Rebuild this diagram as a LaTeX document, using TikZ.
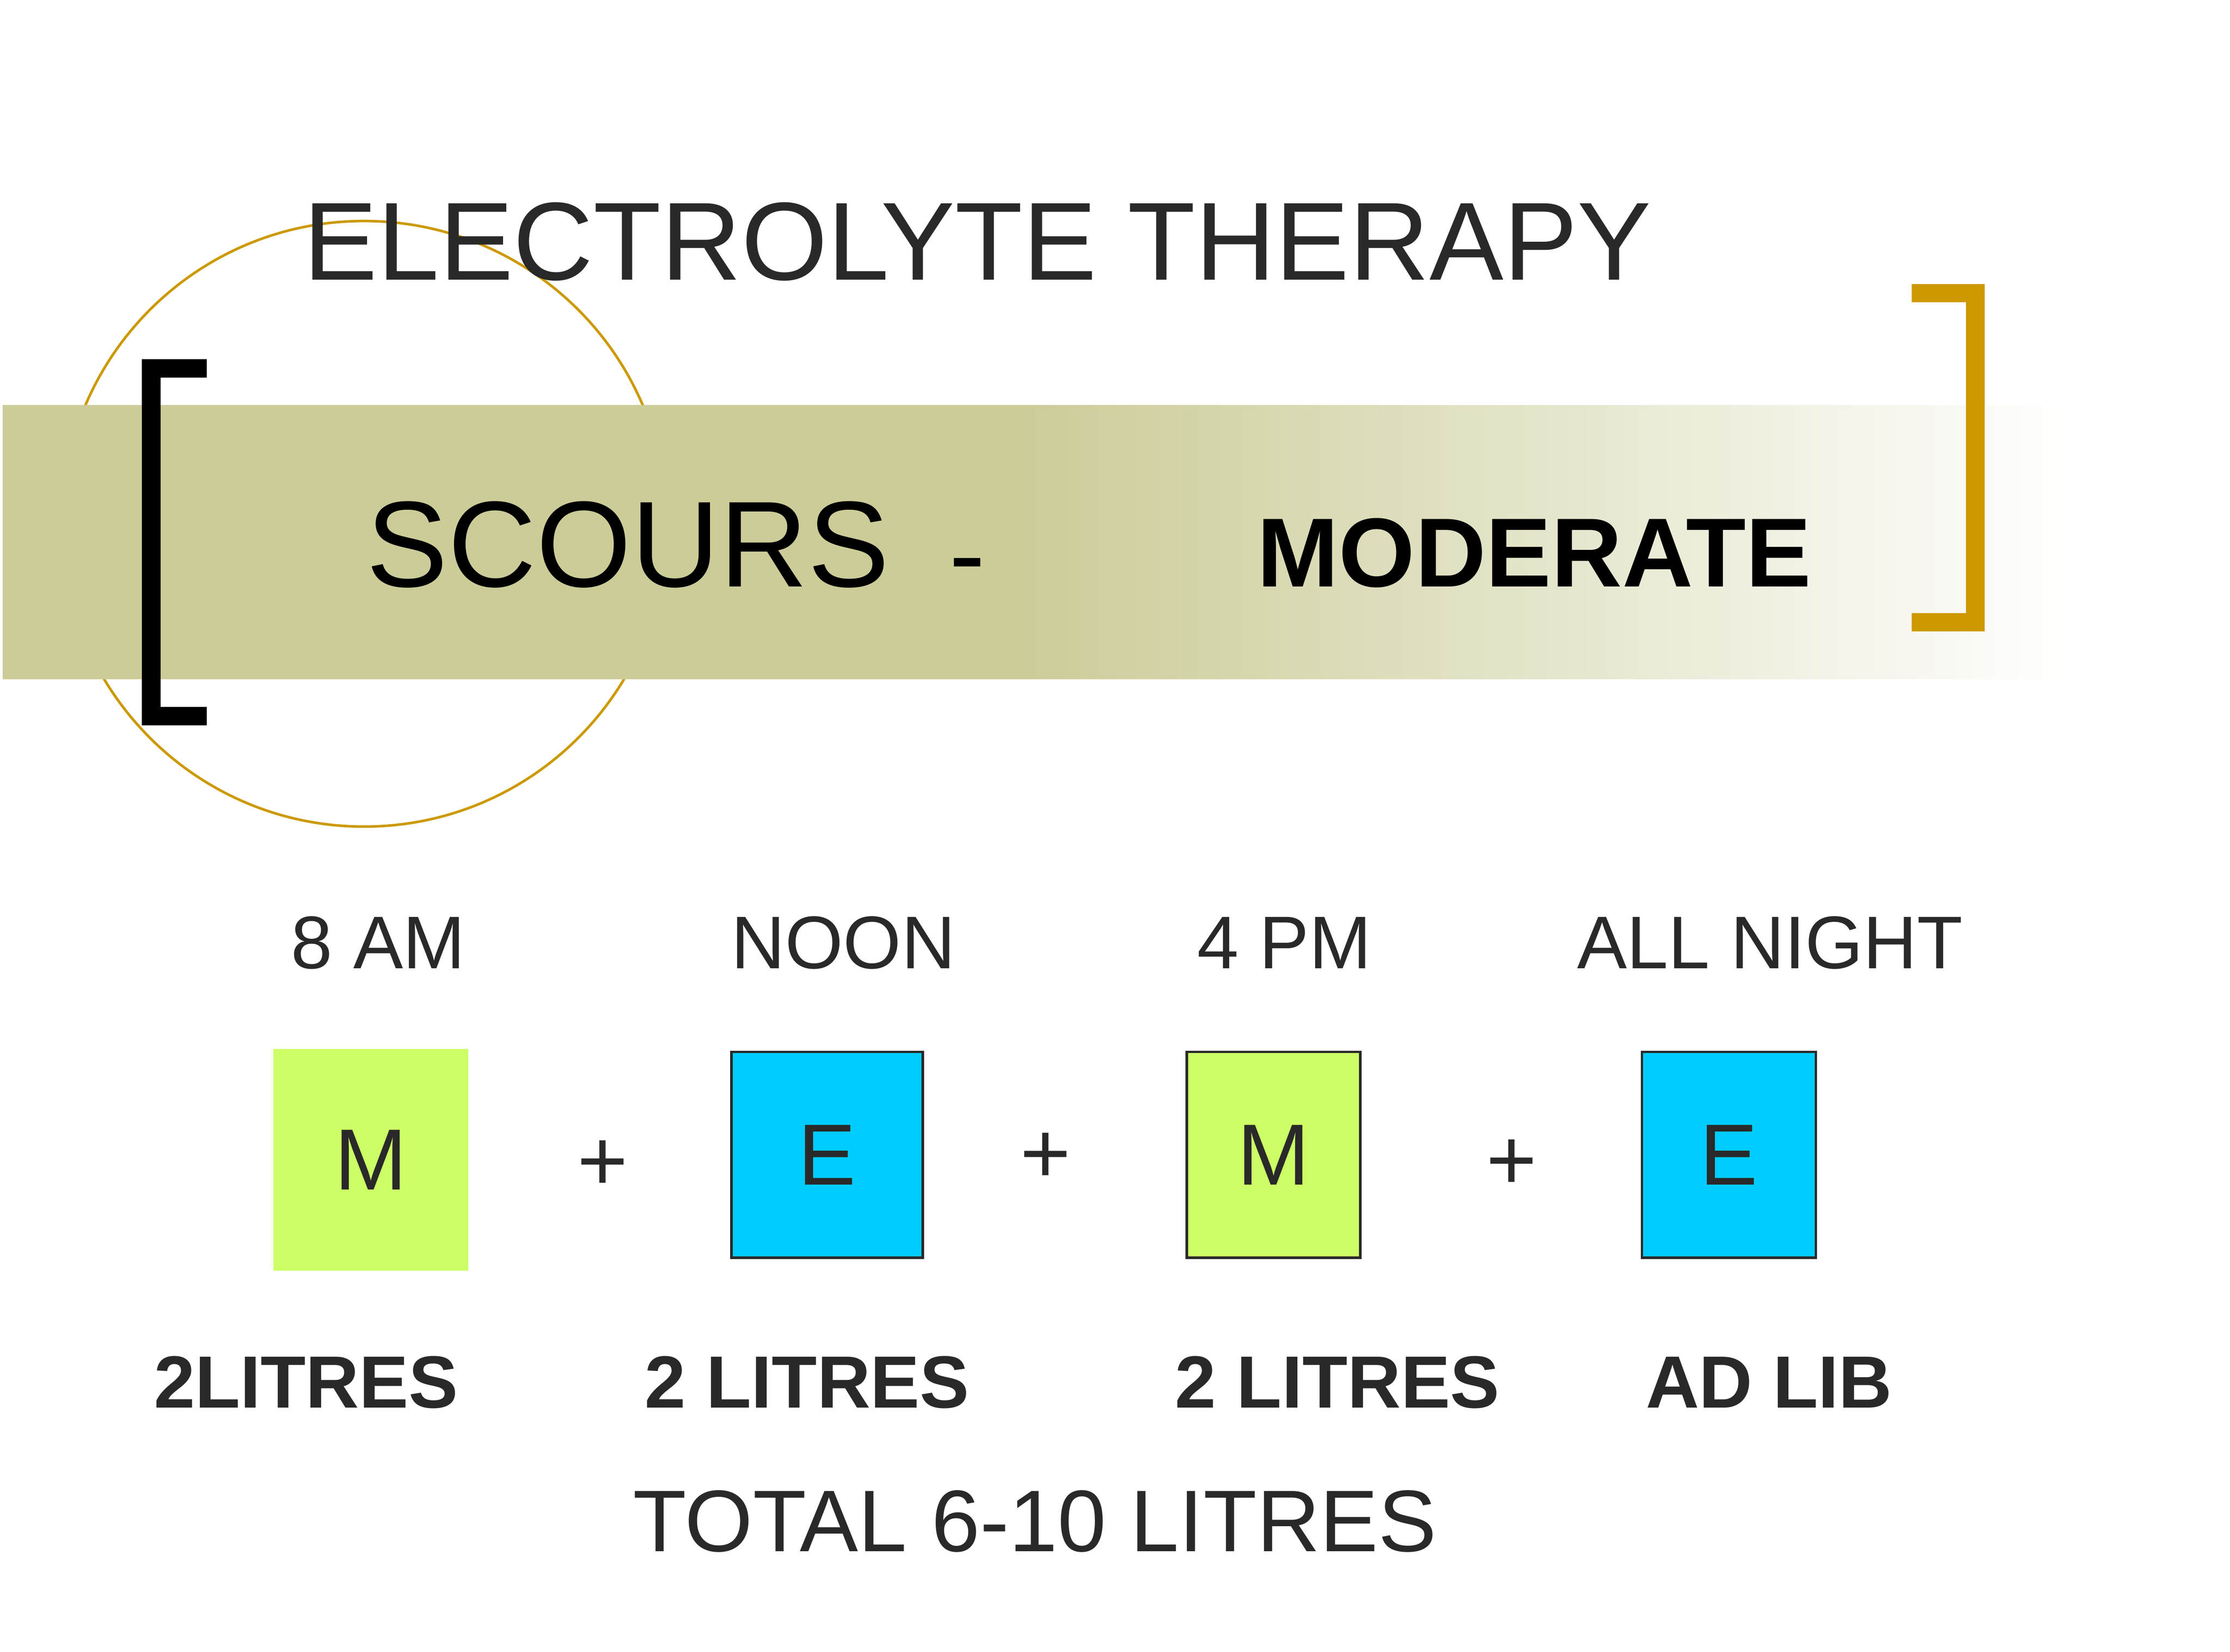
\documentclass[tikz,border=0pt]{standalone}
\usepackage{fontspec}
\setmainfont{Liberation Sans}
\definecolor{txt}{HTML}{292929}
\definecolor{band}{HTML}{CCCC99}
\definecolor{gold}{HTML}{CC9900}
\definecolor{mgreen}{HTML}{CCFF66}
\definecolor{ecyan}{HTML}{00CCFF}
\tikzset{
  fs/.style={font=\fontsize{#1}{#1}\selectfont},
  fsb/.style={font=\fontsize{#1}{#1}\selectfont\bfseries},
  lbl/.style={anchor=base west, inner sep=0pt, text=txt},
  boxbase/.style={anchor=north west, inner sep=0pt, text=txt, fs=61},
  mbox/.style={boxbase, fill=mgreen},
  ebox/.style={boxbase, fill=ecyan},
  outl/.style={draw=txt, line width=1.8pt},
  plus/.style={inner sep=0pt, text=txt, fs=61},
}
\begin{document}
\begin{tikzpicture}[x=1pt,y=-1pt]
\useasboundingbox (0,0) rectangle (1568,1161.4);
% circle
\node[circle, draw=gold, line width=1.8pt, minimum size=425.8pt, inner sep=0pt] (ring) at (256,368.3) {};
% band
\fill[band] (2,284.9) rectangle (722,477.6);
\shade[left color=band, right color=white, shading angle=90] (720,284.9) rectangle (1455,477.6);
% left bracket
\fill[black] (99.8,252.6) -- (145.4,252.6) -- (145.4,265.5) -- (112.9,265.5) -- (112.9,497.1) -- (145.4,497.1) -- (145.4,510) -- (99.8,510) -- cycle;
% right bracket
\fill[gold] (1395.5,199.7) -- (1344.2,199.7) -- (1344.2,212.5) -- (1382.4,212.5) -- (1382.4,431.1) -- (1344.2,431.1) -- (1344.2,443.9) -- (1395.5,443.9) -- cycle;
% titles
\node[lbl, fs=78] (title) at (213.3,196.8) {ELECTROLYTE THERAPY};
\node[lbl, fs=86, text=black] (scours) at (257.3,412.5) {SCOURS\hspace{42.1pt}{\fontsize{76}{76}\selectfont\raisebox{-3.2pt}{-}}};
\node[lbl, fsb=69, text=black] (moderate) at (883.7,412.6) {MODERATE};
% times
\node[lbl, fs=52.5] (t1) at (204.5,681) {8 AM};
\node[lbl, fs=52.5] (t2) at (514,681) {NOON};
\node[lbl, fs=52.5] (t3) at (841.6,681) {4 PM};
\node[lbl, fs=52.5] (t4) at (1108.7,681) {ALL NIGHT};
% boxes
\node[mbox, minimum width=137.1pt, minimum height=155.8pt] (b1) at (192.1,737.5) {M};
\node[ebox, outl, minimum width=134.6pt, minimum height=144.8pt] (b2) at (513.3,738.7) {E};
\node[mbox, outl, minimum width=122.1pt, minimum height=144.8pt] (b3) at (833.5,738.7) {M};
\node[ebox, outl, minimum width=122.3pt, minimum height=144.8pt] (b4) at (1153.6,738.7) {E};
% plus signs
\node[plus] (p1) at (423.8,819.4) {+};
\node[plus] (p2) at (735.3,814.2) {+};
\node[plus] (p3) at (1063,819) {+};
% amounts
\node[lbl, fsb=52] (a1) at (108,990) {2LITRES};
\node[lbl, fsb=52] (a2) at (453,990) {2 LITRES};
\node[lbl, fsb=52] (a3) at (826,990) {2 LITRES};
\node[lbl, fsb=52] (a4) at (1157,990) {AD LIB};
% total
\node[lbl, fs=61.5] (total) at (445,1091) {TOTAL 6-10 LITRES};
\end{tikzpicture}
\end{document}
